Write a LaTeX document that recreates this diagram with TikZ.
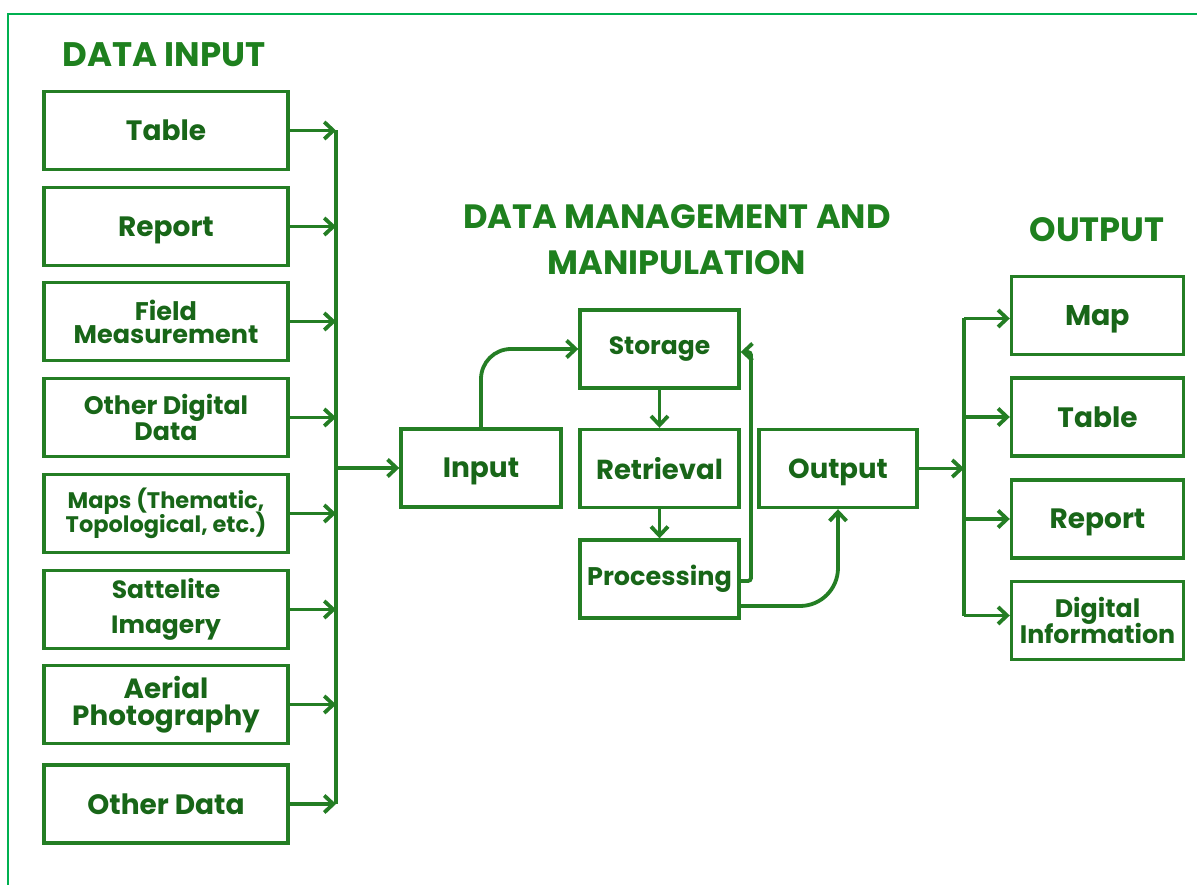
\documentclass[tikz,border=0pt]{standalone}
\usepackage{fontspec}
\setmainfont{Poppins}
\usetikzlibrary{arrows.meta,calc}
\definecolor{linec}{RGB}{36,126,36}
\definecolor{textc}{RGB}{24,102,24}
\definecolor{headc}{RGB}{30,128,30}
\definecolor{framec}{RGB}{0,176,80}
\newcommand{\fs}[1]{\fontsize{#1}{1.15\dimexpr#1pt\relax}\selectfont\bfseries}
\begin{document}
\begin{tikzpicture}[x=1pt,y=-1pt,
  box/.style={draw=linec, line width=3.4pt, text=textc, align=center,
    inner sep=0pt, font=\fs{28}},
  one/.style={text depth=0pt},
  lbox/.style={box, minimum width=244pt, minimum height=78pt},
  mbox/.style={box, minimum width=159pt, minimum height=78pt},
  rbox/.style={box, minimum width=172pt, minimum height=78pt},
  head/.style={text=headc, align=center, inner sep=0pt},
  arr/.style={draw=linec, line width=3.8pt,
    -{Straight Barb[length=9pt,width=17pt]}},
  bus/.style={draw=linec, line width=3.8pt}]
\useasboundingbox (0,0) rectangle (1197,885);
% outer frame (top and left edges)
\draw[framec, line width=2pt] (1197,14) -- (8,14) -- (8,885);

% headings
\node[head, font=\fs{34}] (hin) at (164,55) {DATA INPUT};
\node[head, font=\fontsize{33.7}{46}\selectfont\bfseries] (hmid) at (677,240)
  {DATA MANAGEMENT AND\\MANIPULATION};
\node[head, font=\fs{33.7}] (hout) at (1097,230) {OUTPUT};

% input sources
\node[lbox, one] (s1) at (166,130.5) {Table};
\node[lbox, one] (s2) at (166,226.5) {Report};
\node[lbox, font=\fs{25.5}] (s3) at (166,321.5) {Field\\[-6.3pt]Measurement};
\node[lbox, font=\fs{25.3}] (s4) at (166,417.5) {Other Digital\\[-4pt]Data};
\node[lbox, font=\fs{22.5}] (s5) at (166,513.5) {Maps (Thematic,\\[-4pt]Topological, etc.)};
\node[lbox, font=\fs{25}] (s6) at (166,609.5) {Sattelite\\[6pt]Imagery};
\node[lbox, font=\fs{27.8}] (s7) at (166,704.5) {Aerial\\[-4.5pt]Photography};
\node[lbox, one] (s8) at (166,804) {Other Data};

% management and manipulation
\node[mbox, one, minimum width=160pt] (inp) at (481,468) {Input};
\node[mbox, font=\fs{25}] (sto) at (659.5,349) {Storage};
\node[mbox, one, font=\fs{27.5}] (ret) at (659.5,468.5) {Retrieval};
\node[mbox, font=\fs{25.5}] (pro) at (659.5,579) {Processing};
\node[mbox, one, minimum width=158pt, font=\fs{27.5}] (out) at (838,468.5) {Output};

% outputs
\node[rbox, one, font=\fs{28.5}] (o1) at (1097.5,315.5) {Map};
\node[rbox, one] (o2) at (1097.5,417) {Table};
\node[rbox, one] (o3) at (1097.5,519) {Report};
\node[rbox, font=\fs{25.3}] (o4) at (1097.5,620.5) {Digital\\[-3pt]Information};

% collecting bus on the left
\coordinate (busL) at (336,0);
\draw[bus] (s1.east -| busL) -- (s8.east -| busL);
\foreach \s in {s1,s2,s3,s4,s5,s6,s7,s8}
  \draw[arr] (\s.east) -- (\s.east -| busL);
\draw[arr] (busL |- inp.west) -- (inp.west);

% internal flow
\draw[arr, rounded corners=30pt] (inp.north) -- (inp.north |- sto.west) -- (sto.west);
\draw[arr] (sto.south) -- (ret.north);
\draw[arr] (ret.south) -- (pro.north);
\coordinate (fb) at (751,0);
\draw[arr, rounded corners=3pt] ($(pro.east)+(0,2)$) -- ($(pro.east -| fb)+(0,2)$)
  -- ($(fb |- sto.east)+(0,3)$) -- ($(sto.east)+(0,3)$);
\draw[arr, rounded corners=38pt] ($(pro.east)+(0,27)$) -- ($(out.south |- pro.east)+(0,27)$)
  -- (out.south);

% distribution bus on the right
\coordinate (busR) at (964,0);
\draw[arr] (out.east) -- (out.east -| busR);
\draw[bus] ($(busR |- o1.west)+(0,3)$) -- ($(busR |- o4.west)+(0,-5)$);
\draw[arr] ($(busR |- o1.west)+(0,3)$) -- ($(o1.west)+(0,3)$);
\draw[arr] (busR |- o2.west) -- (o2.west);
\draw[arr] (busR |- o3.west) -- (o3.west);
\draw[arr] ($(busR |- o4.west)+(0,-5)$) -- ($(o4.west)+(0,-5)$);
\end{tikzpicture}
\end{document}
